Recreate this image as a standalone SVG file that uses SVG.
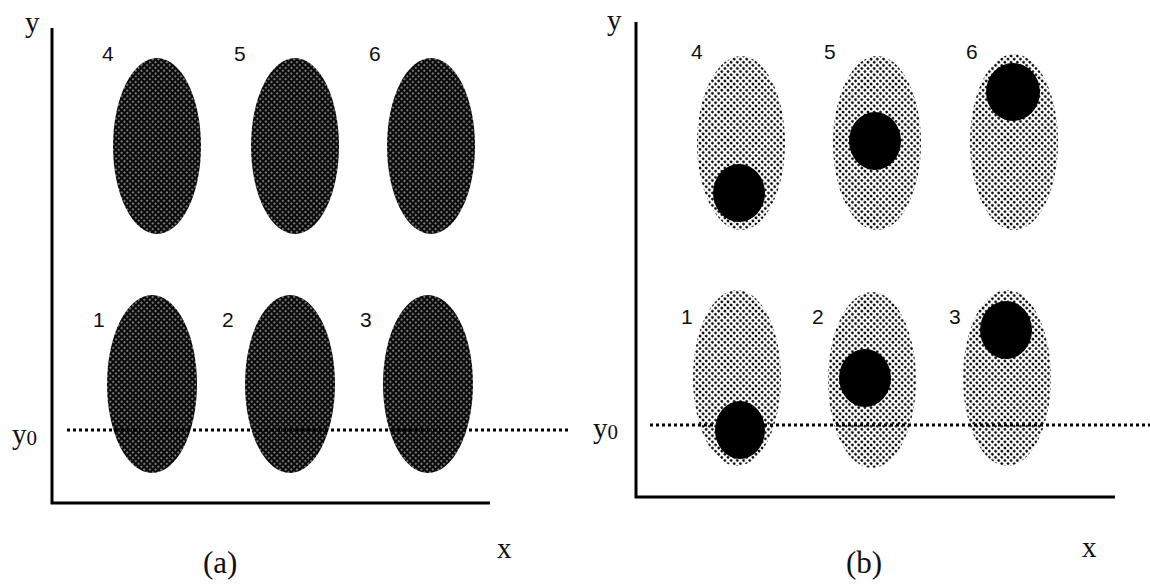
<svg xmlns="http://www.w3.org/2000/svg" width="1150" height="585" viewBox="0 0 1150 585">
<style>
.lbl{font-family:"Liberation Sans",Arial,sans-serif;font-size:21px;fill:#111}
.ax{font-family:"Liberation Serif","Times New Roman",serif;font-size:29px;fill:#111}
.cap{font-family:"Liberation Serif","Times New Roman",serif;font-size:31px;fill:#111}
.axis{stroke:#000;stroke-width:3;fill:none}
.dot{stroke:#000;stroke-width:3;stroke-dasharray:3 3;fill:none}
.dk{fill:url(#darkPat)}
.lt{fill:url(#lightPat)}
.blob{fill:#000}
</style>
<defs>
<pattern id="darkPat" width="4" height="4" patternUnits="userSpaceOnUse" patternTransform="rotate(45)">
<rect width="4" height="4" fill="#0a0a0a"/>
<circle cx="2" cy="2" r="0.8" fill="#fff"/>
</pattern>
<pattern id="lightPat" width="4.4" height="4.4" patternUnits="userSpaceOnUse" patternTransform="rotate(45)">
<rect width="4.4" height="4.4" fill="#fff"/>
<circle cx="2.2" cy="2.2" r="1.4" fill="#000"/>
</pattern>
</defs>
<rect width="1150" height="585" fill="#fff"/>
<g id="panel-a">
<g id="axes-a">
<polyline class="axis" points="52,28 52,503 490,503"/>
<text class="ax" x="25" y="32">y</text>
<text class="ax" x="497" y="558">x</text>
<text class="ax" x="12" y="444">y<tspan font-size="21" dy="1">0</tspan></text>
<text class="cap" x="203" y="573">(a)</text>
</g>
<g id="a4"><ellipse class="dk" cx="157" cy="146" rx="44" ry="88"/><text class="lbl" x="102" y="61">4</text></g>
<g id="a5"><ellipse class="dk" cx="295" cy="146" rx="44" ry="88"/><text class="lbl" x="234" y="61">5</text></g>
<g id="a6"><ellipse class="dk" cx="431" cy="146" rx="44" ry="88"/><text class="lbl" x="369" y="61">6</text></g>
<g id="a1"><ellipse class="dk" cx="152" cy="384" rx="45" ry="89"/><text class="lbl" x="93" y="327">1</text></g>
<g id="a2"><ellipse class="dk" cx="290" cy="384" rx="45" ry="89"/><text class="lbl" x="222" y="327">2</text></g>
<g id="a3"><ellipse class="dk" cx="428" cy="384" rx="45" ry="89"/><text class="lbl" x="360" y="327">3</text></g>
<line class="dot" x1="67" y1="430" x2="570" y2="430"/>
</g>
<g id="panel-b">
<g id="axes-b">
<polyline class="axis" points="636,22 636,497 1115,497"/>
<text class="ax" x="607" y="30">y</text>
<text class="ax" x="1082" y="557">x</text>
<text class="ax" x="593" y="438">y<tspan font-size="21" dy="1">0</tspan></text>
<text class="cap" x="846" y="573">(b)</text>
</g>
<g id="b4"><ellipse class="lt" cx="741" cy="143" rx="44" ry="87"/><ellipse class="blob" cx="739" cy="193" rx="26" ry="29"/><text class="lbl" x="691" y="59">4</text></g>
<g id="b5"><ellipse class="lt" cx="877" cy="143" rx="44" ry="87"/><ellipse class="blob" cx="875" cy="141" rx="26" ry="29"/><text class="lbl" x="824" y="59">5</text></g>
<g id="b6"><ellipse class="lt" cx="1014" cy="142" rx="44" ry="88"/><ellipse class="blob" cx="1013" cy="92" rx="27" ry="29"/><text class="lbl" x="966" y="59">6</text></g>
<g id="b1"><ellipse class="lt" cx="737" cy="378" rx="44" ry="88"/><ellipse class="blob" cx="740" cy="430" rx="25" ry="29"/><text class="lbl" x="681" y="324">1</text></g>
<g id="b2"><ellipse class="lt" cx="872" cy="380" rx="44" ry="88"/><ellipse class="blob" cx="865" cy="378" rx="26" ry="29"/><text class="lbl" x="812" y="324">2</text></g>
<g id="b3"><ellipse class="lt" cx="1007" cy="378" rx="44" ry="88"/><ellipse class="blob" cx="1006" cy="330" rx="26" ry="29"/><text class="lbl" x="949" y="324">3</text></g>
<line class="dot" x1="650" y1="425" x2="1150" y2="425"/>
</g>
</svg>
